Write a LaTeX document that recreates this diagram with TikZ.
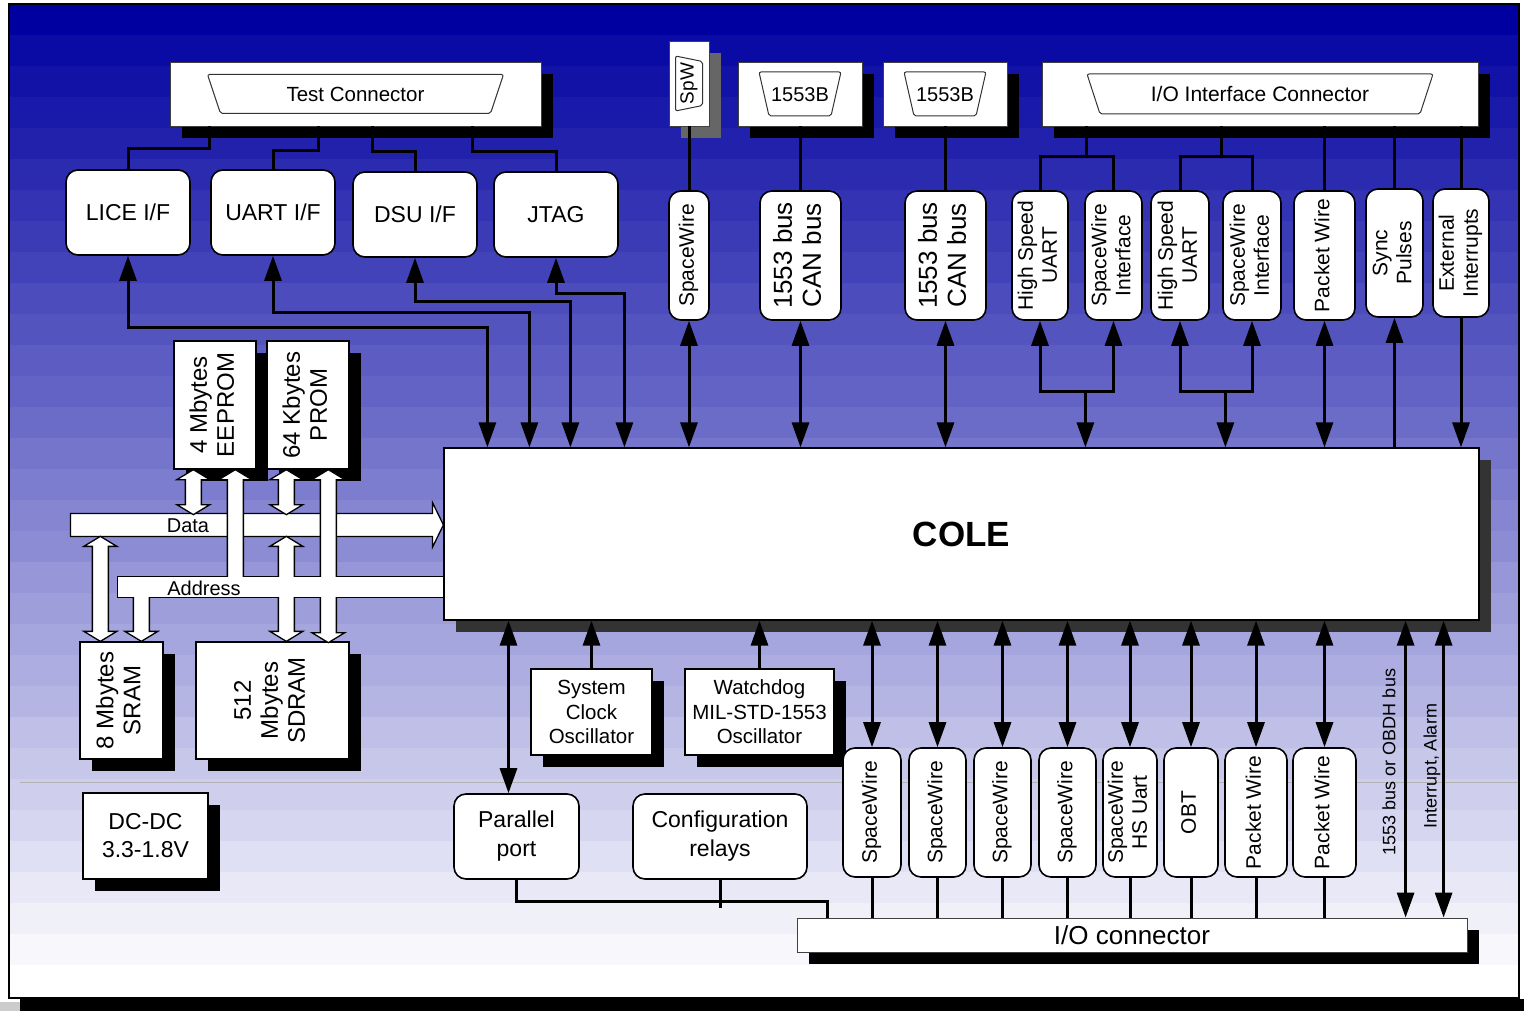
\documentclass[tikz,border=0pt]{standalone}
\usepackage{fontspec}
\setmainfont{Liberation Sans}
\usepackage{graphicx}
\usetikzlibrary{positioning,arrows.meta,shadows,calc}

\definecolor{slidetop}{RGB}{0,0,160}

% rotated (bottom-to-top) label, one or more lines
\newcommand\vlab[1]{\rotatebox{90}{\begin{tabular}{@{}c@{}}#1\end{tabular}}}
% hollow bus bars: #1 = top point (centre), #2 = length downwards
\newcommand\busboth[2]{#1 -- ++(16.5,10) -- ++(-8.5,0) -- ++(0,#2-20) -- ++(8.5,0) -- ++(-16.5,10) -- ++(-16.5,-10) -- ++(8.5,0) -- ++(0,20-#2) -- ++(-8.5,0) -- cycle}
\newcommand\bustop[2]{#1 -- ++(16.5,10) -- ++(-8.5,0) -- ++(0,#2-10) -- ++(-16,0) -- ++(0,10-#2) -- ++(-8.5,0) -- cycle}
\newcommand\busbot[2]{#1 -- ++(8,0) -- ++(0,#2-10) -- ++(8.5,0) -- ++(-16.5,10) -- ++(-16.5,-10) -- ++(8.5,0) -- ++(0,10-#2) -- cycle}

\begin{document}
\begin{tikzpicture}[
  x=1pt, y=-1pt,
  font=\fontsize{21}{24}\selectfont,
  >={Triangle[length=25pt,width=17pt]},
  wh/.style 2 args={minimum width=#1pt, minimum height=#2pt},
  shade12/.style={drop shadow={shadow xshift=12pt, shadow yshift=-12pt,
    draw=none, fill=#1, opacity=1}},
  conbox/.style={rectangle, draw=black!75, line width=0.9pt, fill=white,
    inner sep=0pt, shade12=#1},
  conbox/.default=black,
  plug/.style={draw=black!80, line width=1pt, rounded corners=2pt, fill=white},
  ifbox/.style={rectangle, rounded corners=12pt, draw, line width=1.6pt,
    fill=white, inner sep=0pt, align=center,
    font=\fontsize{23}{29}\selectfont},
  vbox/.style={ifbox, font=\fontsize{21}{24}\selectfont},
  membox/.style={rectangle, draw, line width=1.3pt, fill=white,
    inner sep=0pt, align=center, shade12=black,
    font=\fontsize{24}{27}\selectfont},
  wire/.style={line width=3pt},
  dbl/.style={wire, <->},
  bus/.style={draw, line width=1.3pt, fill=white},
]
\useasboundingbox (0,0) rectangle (1524,1011);

%---------- slide background ----------
\fill[black!20] (0,1002) rectangle (20,1011);
\fill[black] (20,999) rectangle (1524,1011);
\foreach \i in {0,...,31}{
  \pgfmathtruncatemacro\p{100-\i*100/31}
  \fill[slidetop!\p!white] (9,4+31*\i) rectangle (1519,4+31*\i+31.5);
}
\draw[line width=1.5pt] (9,4) rectangle (1519,998);
\draw[black!30, line width=0.8pt] (20,782) -- (1518,782);

%---------- connectors (top) ----------
\node[conbox, wh={371}{64}] (tc) at (355.5,94) {};
\node[conbox=black!60, wh={40}{85}] (spwc) at (689,83.5) {};
\node[conbox, wh={124}{64}] (b1) at (800,94) {};
\node[conbox, wh={124}{64}] (b2) at (945,94) {};
\node[conbox, wh={436}{64}] (io) at (1260,94) {};

\foreach \c/\a/\b/\h in {tc/148/135/19.5, b1/41/31/22, b2/41/31/22, io/173/160/20}
  \draw[plug] ($(\c.center)+(-\a,-\h)$) -- ($(\c.center)+(\a,-\h)$)
    -- ($(\c.center)+(\b,\h)$) -- ($(\c.center)+(-\b,\h)$) -- cycle;
\draw[plug] ($(spwc.center)+(-13.5,-27.5)$) -- ($(spwc.center)+(13.5,-22)$)
  -- ($(spwc.center)+(13.5,22)$) -- ($(spwc.center)+(-13.5,27.5)$) -- cycle;

\node[inner sep=0pt, font=\fontsize{20.5}{24}\selectfont] (tct) at (tc.center) {Test Connector};
\node[inner sep=0pt, rotate=90, font=\fontsize{19}{22}\selectfont] (spwt) at (spwc.center) {SpW};
\node[inner sep=0pt, font=\fontsize{20}{24}\selectfont] (b1t) at ($(b1.center)+(0,1)$) {1553B};
\node[inner sep=0pt, font=\fontsize{20}{24}\selectfont] (b2t) at ($(b2.center)+(0,1)$) {1553B};
\node[inner sep=0pt] (iot) at (io.center) {I/O Interface Connector};

%---------- debug interfaces ----------
\node[ifbox, wh={124}{85}] (lice) at (128,212.5) {LICE I/F};
\node[ifbox, wh={124}{85}, right=19.4pt of lice] (uart) {UART I/F};
\node[ifbox, wh={124}{85}, right=16.4pt of uart, yshift=-2pt] (dsu) {DSU I/F};
\node[ifbox, wh={124}{85}, right=15.4pt of dsu] (jtag) {JTAG};

%---------- upper I/O row ----------
\node[vbox, wh={40}{129}] (spw) at (689,255.5) {\vlab{SpaceWire}};
\node[vbox, wh={81}{129}, font=\fontsize{26}{29}\selectfont] (can1) at (800.5,255.5) {\vlab{1553 bus\\CAN bus}};
\node[vbox, wh={81}{129}, font=\fontsize{26}{29}\selectfont] (can2) at (945.5,255.5) {\vlab{1553 bus\\CAN bus}};
\node[vbox, wh={56}{129}] (hsu1) at (1040,255.5) {\vlab{High Speed\\UART}};
\node[vbox, wh={57}{129}] (swi1) at (1113.5,255.5) {\vlab{SpaceWire\\Interface}};
\node[vbox, wh={58}{129}] (hsu2) at (1180,255.5) {\vlab{High Speed\\UART}};
\node[vbox, wh={58}{129}] (swi2) at (1252,255.5) {\vlab{SpaceWire\\Interface}};
\node[vbox, wh={61}{129}] (pw) at (1324.5,255.5) {\vlab{Packet Wire}};
\node[vbox, wh={57}{128}] (sync) at (1394.5,253) {\vlab{Sync\\Pulses}};
\node[vbox, wh={56}{128}] (extint) at (1461,253) {\vlab{External\\Interrupts}};

%---------- processor ----------
\node[draw, line width=1.2pt, fill=white, inner sep=0pt, wh={1035}{172},
  shade12=black!80, font=\bfseries\fontsize{35}{40}\selectfont] (cole) at (961.5,534) {COLE};

%---------- memories ----------
\node[membox, wh={82}{128}] (eeprom) at (215,405) {\vlab{4 Mbytes\\EEPROM}};
\node[membox, wh={82}{128}, right=9.7pt of eeprom] (prom) {\vlab{64 Kbytes\\PROM}};
\node[membox, wh={83}{117}] (sram) at (121.5,700.5) {\vlab{8 Mbytes\\SRAM}};
\node[membox, wh={153}{117}] (sdram) at (272.5,700.5) {\vlab{512\\Mbytes\\SDRAM}};

%---------- lower blocks ----------
\node[membox, wh={125}{86}, font=\fontsize{23}{28}\selectfont] (dcdc) at (145.5,836) {DC-DC\\3.3-1.8V};
\node[membox, wh={121}{86}, font=\fontsize{20.5}{24.5}\selectfont] (clk) at (591.5,712) {System\\Clock\\Oscillator};
\node[membox, wh={149}{86}, font=\fontsize{20.5}{24.5}\selectfont] (wd) at (759.5,712) {Watchdog\\MIL-STD-1553\\Oscillator};
\node[ifbox, wh={125}{85}] (par) at (516.5,836.5) {Parallel\\port};
\node[ifbox, wh={174}{85}, right=52.4pt of par] (cfg) {Configuration\\relays};

\foreach \nm/\cx/\bw/\tx in {bs1/872/58/SpaceWire, bs2/937.5/57/SpaceWire,
    bs3/1002.5/57/SpaceWire, bs4/1067.5/57/SpaceWire, bs5/1130/54/SpaceWire\\HS Uart,
    bs6/1191/54/OBT, bs7/1256/62/Packet Wire, bs8/1324.5/63/Packet Wire}
  \node[vbox, wh={\bw}{129}] (\nm) at (\cx,812.5) {\vlab{\tx}};

\node[conbox, wh={670}{34}, font=\fontsize{26}{30}\selectfont] (ioc) at (1132,935) {I/O connector};
\node[rotate=90, inner sep=0pt, font=\fontsize{18}{21}\selectfont] (obdh) at (1389,762) {1553 bus or OBDH bus};
\node[rotate=90, inner sep=0pt, font=\fontsize{18}{21}\selectfont] (intal) at (1432,766) {Interrupt, Alarm};

%---------- data / address buses ----------
\coordinate (dtip) at ($(cole.north west)+(0,77.5)$);
\draw[bus] (dtip) -- ++(-11,-22.5) -- ++(0,11) -- ++(-362,0) -- ++(0,23)
  -- ++(362,0) -- ++(0,11) -- cycle;
\draw[line width=1.3pt] ($(cole.north west)+(0,129)$) rectangle ++(-326,21);
\draw[bus] \busboth{($(eeprom.south west)+(20,0)$)}{45};
\draw[bus] \busboth{($(prom.south west)+(20,0)$)}{45};
\draw[bus] \bustop{($(eeprom.south west)+(62,0)$)}{111};
\draw[bus] \busboth{($(prom.south west)+(62,0)$)}{173};
\draw[bus] \busboth{($(sram.north west)+(21,-105)$)}{105};
\draw[bus] \busbot{($(sram.north west)+(62,-47)$)}{47};
\draw[bus] \busboth{($(sdram.north west)+(91,-105)$)}{105};
\fill[white] ($(cole.north west)+(0,129.7)$) rectangle ++(-325.3,19.6);
\node[inner sep=0pt, font=\fontsize{20}{24}\selectfont] (datal) at (188,525.5) {Data};
\node[inner sep=0pt, font=\fontsize{20}{24}\selectfont] (addrl) at (204,588) {Address};

%---------- wires ----------
\draw[wire] ($(tc.south west)+(40,0)$) -- ++(0,22) -| (lice.north);
\draw[wire] ($(tc.south west)+(149,0)$) -- ++(0,24) -| (uart.north);
\draw[wire] ($(tc.south west)+(203,0)$) -- ++(0,25) -| (dsu.north);
\draw[wire] ($(tc.south west)+(303,0)$) -- ++(0,25) -| (jtag.north);

\draw[dbl] (lice.south) |- ($(cole.north west)+(44,-120)$) -- ($(cole.north west)+(44,0)$);
\draw[dbl] (uart.south) |- ($(cole.north west)+(86,-135)$) -- ($(cole.north west)+(86,0)$);
\draw[dbl] (dsu.south) |- ($(cole.north west)+(127,-146)$) -- ($(cole.north west)+(127,0)$);
\draw[dbl] (jtag.south) |- ($(cole.north west)+(181,-154)$) -- ($(cole.north west)+(181,0)$);

\draw[wire] (spwc.south) -- (spw.north);
\draw[wire] (can1.north |- b1.south) -- (can1.north);
\draw[wire] (can2.north |- b2.south) -- (can2.north);
\coordinate (j1) at ($(io.south west)+(45,30)$);
\coordinate (j2) at ($(io.south west)+(180,30)$);
\draw[wire] (hsu1.north) |- (j1) -| (swi1.north);
\draw[wire] (j1) -- (j1 |- io.south);
\draw[wire] (hsu2.north) |- (j2) -| (swi2.north);
\draw[wire] (j2) -- (j2 |- io.south);
\foreach \n in {pw,sync,extint}
  \draw[wire] (\n.north) -- (\n.north |- io.south);

\foreach \n in {spw,can1,can2,pw}
  \draw[dbl] (\n.south) -- (\n.south |- cole.north);
\coordinate (k1) at ($(cole.north west)+(642,-56)$);
\coordinate (k2) at ($(cole.north west)+(782,-56)$);
\draw[dbl] (hsu1.south) |- (k1) -| (swi1.south);
\draw[wire,->] (k1) -- (k1 |- cole.north);
\draw[dbl] (hsu2.south) |- (k2) -| (swi2.south);
\draw[wire,->] (k2) -- (k2 |- cole.north);
\draw[wire,->] (sync.south |- cole.north) -- (sync.south);
\draw[wire,->] (extint.south) -- (extint.south |- cole.north);

\coordinate (pp) at ($(par.north)+(-8,0)$);
\draw[dbl] (pp) -- (pp |- cole.south);
\draw[wire,->] (clk.north) -- (clk.north |- cole.south);
\draw[wire,->] (wd.north) -- (wd.north |- cole.south);
\draw[wire] (par.south) |- ($(ioc.north west)+(31,-16)$) -- ($(ioc.north west)+(31,0)$);
\draw[wire] (cfg.south) -- ++(0,28);

\foreach \i in {1,...,8}{
  \draw[dbl] (bs\i.north) -- (bs\i.north |- cole.south);
  \draw[wire] (bs\i.south) -- (bs\i.south |- ioc.north);
}
\coordinate (bx1) at ($(cole.south east)+(-74,0)$);
\coordinate (bx2) at ($(cole.south east)+(-36,0)$);
\draw[dbl] (bx1) -- (bx1 |- ioc.north);
\draw[dbl] (bx2) -- (bx2 |- ioc.north);

\end{tikzpicture}
\end{document}
